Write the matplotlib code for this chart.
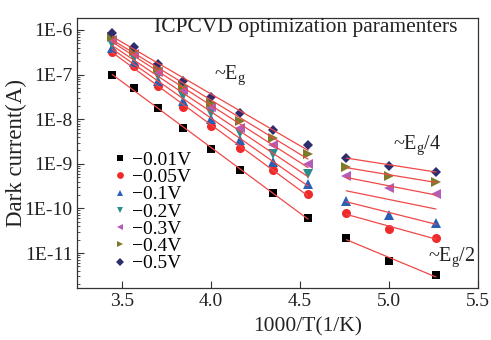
import numpy as np
import matplotlib.pyplot as plt
from matplotlib.ticker import FuncFormatter, LogLocator, FixedLocator

plt.rcParams['font.family'] = ['Liberation Serif', 'DejaVu Serif']
plt.rcParams['mathtext.fontset'] = 'custom'
plt.rcParams['mathtext.rm'] = 'Liberation Serif'
plt.rcParams['mathtext.it'] = 'Liberation Serif:italic'

# 1000/T for the two temperature ranges
x_hi = [3.448, 3.571, 3.704, 3.846, 4.0, 4.167, 4.348, 4.545]
x_lo = [4.762, 5.0, 5.263]

labels = ['\u22120.01V', '\u22120.05V', '\u22120.1V', '\u22120.2V',
          '\u22120.3V', '\u22120.4V', '\u22120.5V']

# dark current (A), high temperature group
i_hi = [
    [9.8e-8, 4.9e-8, 1.75e-8, 6.2e-9, 2.2e-9, 7.4e-10, 2.2e-10, 6.2e-11],
    [3.2e-7, 1.55e-7, 5.5e-8, 1.85e-8, 7.2e-9, 2.3e-9, 7.4e-10, 2.1e-10],
    [3.9e-7, 1.9e-7, 7.1e-8, 2.5e-8, 9.9e-9, 3.5e-9, 1.12e-9, 3.6e-10],
    [4.8e-7, 2.3e-7, 9.2e-8, 3.3e-8, 1.35e-8, 5.0e-9, 1.7e-9, 6.0e-10],
    [6.0e-7, 2.9e-7, 1.13e-7, 4.5e-8, 1.85e-8, 6.5e-9, 2.7e-9, 1.0e-9],
    [6.9e-7, 3.4e-7, 1.4e-7, 5.5e-8, 2.3e-8, 8.9e-9, 3.7e-9, 1.7e-9],
    [8.6e-7, 4.1e-7, 1.7e-7, 7.1e-8, 3.1e-8, 1.35e-8, 5.6e-9, 2.6e-9],
]
# low temperature group
i_lo = [
    [2.2e-11, 6.6e-12, 3.2e-12],
    [7.9e-11, 3.5e-11, 2.2e-11],
    [1.5e-10, 7.2e-11, 4.7e-11],
    [2.5e-10, 1.56e-10, 9.8e-11],
    [5.2e-10, 2.9e-10, 2.1e-10],
    [8.6e-10, 5.2e-10, 4.0e-10],
    [1.38e-9, 9.1e-10, 6.7e-10],
]
show_lo = [True, True, True, False, True, True, True]

markers = ['s', 'o', '^', 'v', '<', '>', 'D']
colors = ['#000000', '#ee2a2a', '#2b5fb4', '#2a8c8c', '#b45cb8', '#7c7c28', '#2d2d6e']
sizes = [5.5, 6.5, 6.5, 6.5, 6.5, 6.5, 5.0]

fig = plt.figure(figsize=(4.91, 3.4), dpi=100)
ax = fig.add_axes([0.157, 0.153, 0.8165, 0.794])

for k in range(len(labels)):
    ax.plot(x_hi, i_hi[k], ls='none', marker=markers[k], color=colors[k],
            ms=sizes[k], mew=0, label=labels[k], zorder=2)
    if show_lo[k]:
        ax.plot(x_lo, i_lo[k], ls='none', marker=markers[k], color=colors[k],
                ms=sizes[k], mew=0, zorder=2)
    # straight fits in log space
    for xs, ys in ((x_hi, i_hi[k]), (x_lo, i_lo[k])):
        p = np.polyfit(xs, np.log10(ys), 1)
        xx = np.array([xs[0], xs[-1]])
        ax.plot(xx, 10 ** np.polyval(p, xx), color='#f04848', lw=0.9, zorder=3)

ax.set_yscale('log')
ax.set_xlim(3.25, 5.5)
ax.set_ylim(1.65e-12, 1.85e-6)
ax.set_xticks([3.5, 4.0, 4.5, 5.0, 5.5])
ax.xaxis.set_major_formatter(FuncFormatter(lambda v, p: f'{v:.1f}'))
ax.yaxis.set_major_locator(FixedLocator([1e-11, 1e-10, 1e-9, 1e-8, 1e-7, 1e-6]))
ax.yaxis.set_minor_locator(LogLocator(base=10, subs=np.arange(2, 10)))
ax.yaxis.set_major_formatter(FuncFormatter(lambda v, p: f'1E{int(round(np.log10(v)))}'))
ax.tick_params(which='both', direction='in', labelsize=14, colors='#333333',
               labelcolor='#222222')
ax.tick_params(which='major', length=5)
ax.tick_params(which='minor', length=2.5)
for s in ax.spines.values():
    s.set_color('#333333')
    s.set_linewidth(0.9)

ax.set_xlabel('1000/T(1/K)', fontsize=15.5, color='#222222')
ax.xaxis.set_label_coords(0.576, -0.11)
ax.set_ylabel('Dark current(A)', fontsize=16.5, color='#222222')
ax.yaxis.set_label_coords(-0.124, 0.5)

ax.text(0.95, 0.965, 'ICPCVD optimization paramenters', transform=ax.transAxes,
        ha='right', va='center', fontsize=15.5, color='#222222')
ax.text(4.02, 9.8e-8, '~E$_\\mathrm{g}$', fontsize=14.5, va='center', color='#222222')
ax.text(5.025, 2.6e-9, '~E$_\\mathrm{g}$/4', fontsize=14.5, va='center', color='#222222')
ax.text(5.22, 8.1e-12, '~E$_\\mathrm{g}$/2', fontsize=14.5, va='center', color='#222222')

ax.legend(loc='upper left', bbox_to_anchor=(0.087, 0.506), frameon=False,
          fontsize=14, handlelength=0.8, handletextpad=0.25, labelspacing=-0.02,
          borderpad=0, borderaxespad=0, markerscale=0.75)

fig.savefig('out.png', dpi=100)
